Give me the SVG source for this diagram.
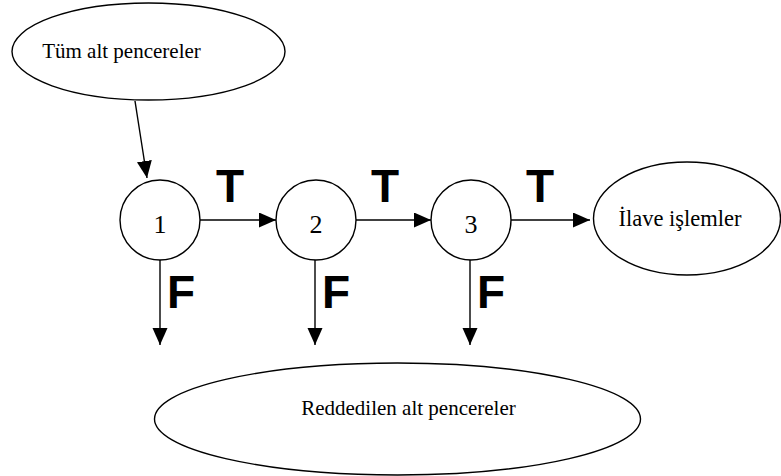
<svg xmlns="http://www.w3.org/2000/svg" width="781" height="476" viewBox="0 0 781 476">
  <style>
    .shape { fill: #ffffff; stroke: #000000; stroke-width: 1.4; }
    .label { font-family: "Liberation Serif", "Times New Roman", serif; font-size: 21px; fill: #000000; text-anchor: middle; }
    .num { font-family: "Liberation Serif", "Times New Roman", serif; font-size: 26px; fill: #000000; text-anchor: middle; }
    .flag { font-family: "Liberation Sans", Arial, sans-serif; font-weight: bold; font-size: 46px; fill: #000000; text-anchor: middle; }
    .edge { stroke: #000000; stroke-width: 1.4; fill: none; marker-end: url(#arrow); }
  </style>
  <defs>
    <marker id="arrow" markerUnits="userSpaceOnUse" markerWidth="18" markerHeight="16" refX="17" refY="7.5" orient="auto">
      <path d="M0,0 L17,7.5 L0,15 Z" fill="#000000"/>
    </marker>
  </defs>
  <rect width="781" height="476" fill="#ffffff"/>

  <!-- connectors -->
  <g id="connectors">
    <line class="edge" x1="135" y1="101" x2="147" y2="178"/>
    <line class="edge" x1="200" y1="220" x2="276" y2="220"/>
    <line class="edge" x1="356" y1="220" x2="431" y2="220"/>
    <line class="edge" x1="511" y1="220" x2="590" y2="220"/>
    <line class="edge" x1="160" y1="260" x2="160" y2="345"/>
    <line class="edge" x1="315" y1="260" x2="315" y2="345"/>
    <line class="edge" x1="470" y1="260" x2="470" y2="345"/>
    <text class="flag" x="230" y="202">T</text>
    <text class="flag" x="385" y="202">T</text>
    <text class="flag" x="540" y="202">T</text>
    <text class="flag" x="181" y="308">F</text>
    <text class="flag" x="336" y="308">F</text>
    <text class="flag" x="491" y="308">F</text>
  </g>

  <!-- nodes -->
  <g id="all-subwindows">
    <ellipse class="shape" cx="148.5" cy="51.5" rx="136.5" ry="48.5"/>
    <text class="label" x="121.5" y="58">Tüm alt pencereler</text>
  </g>
  <g id="stage-1">
    <circle class="shape" cx="160" cy="220" r="40"/>
    <text class="num" x="160" y="233">1</text>
  </g>
  <g id="stage-2">
    <circle class="shape" cx="316" cy="220" r="40"/>
    <text class="num" x="316" y="233">2</text>
  </g>
  <g id="stage-3">
    <circle class="shape" cx="471" cy="220" r="40"/>
    <text class="num" x="471" y="233">3</text>
  </g>
  <g id="further-processing">
    <ellipse class="shape" cx="687" cy="218.5" rx="93.5" ry="56.5"/>
    <text class="label" x="680" y="226" style="font-size:22.5px">İlave işlemler</text>
  </g>
  <g id="rejected-subwindows">
    <ellipse class="shape" cx="397.5" cy="419" rx="243" ry="56"/>
    <text class="label" x="408.5" y="415">Reddedilen alt pencereler</text>
  </g>
</svg>
